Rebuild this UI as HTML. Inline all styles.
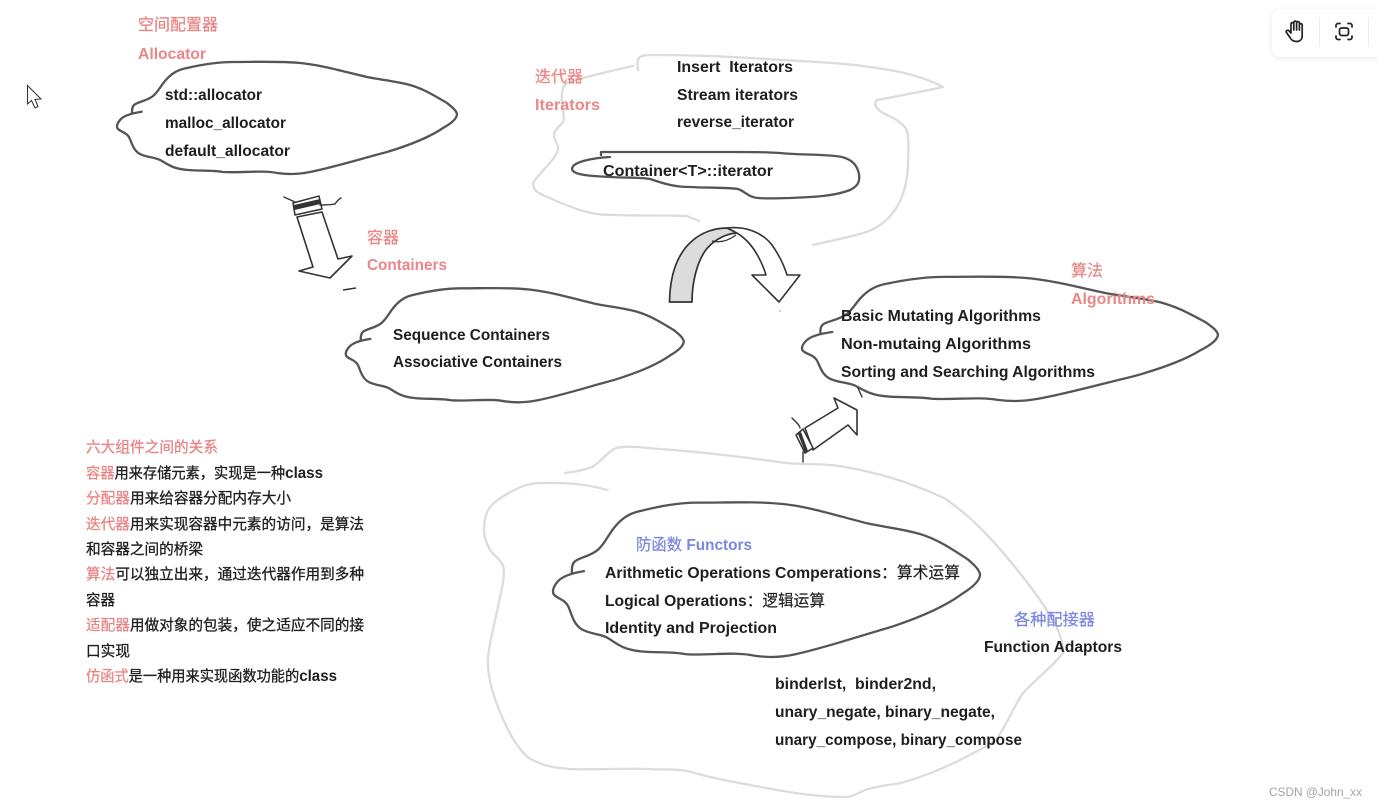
<!DOCTYPE html>
<html><head><meta charset="utf-8"><style>
html,body{margin:0;padding:0;background:#fff;width:1377px;height:807px;overflow:hidden}
svg{display:block}
text{font-family:"Liberation Sans","Noto Sans CJK SC",sans-serif;font-weight:700;font-size:16px;fill:#1e1e1e}
.c{fill:#e98686}
.b{fill:#7c87e2}
.z{font-family:"Noto Sans CJK SC",sans-serif;font-weight:400;font-size:16px;stroke-width:.25px}
.z.c{stroke:#e98686}
.z.b{stroke:#7c87e2}
.z.d{stroke:#1e1e1e;stroke-width:.15px}
.l{font-family:"Noto Sans CJK SC",sans-serif;font-size:14.6px;font-weight:400;stroke:#1e1e1e;stroke-width:.3px}
.l .c,.l.c{stroke:#e98686}
.e{font-family:"Liberation Sans",sans-serif;font-weight:700;font-size:15.5px;stroke:none}
.blob{fill:none;stroke:#555;stroke-width:2.3;stroke-linecap:round;stroke-linejoin:round;vector-effect:non-scaling-stroke}
.g{fill:none;stroke:#dcdcdc;stroke-width:2.3;stroke-linecap:round;stroke-linejoin:round}
.s{fill:#fff;stroke:#333;stroke-width:1.6;stroke-linejoin:round;stroke-linecap:round}
.n{fill:none;stroke:#333;stroke-width:1.4;stroke-linecap:round;stroke-linejoin:round}
</style></head><body>
<svg width="1377" height="807" viewBox="0 0 1377 807" xmlns="http://www.w3.org/2000/svg">
<defs>
<filter id="sh" x="-20%" y="-40%" width="140%" height="180%"><feDropShadow dx="0" dy="1" stdDeviation="3" flood-color="#000" flood-opacity=".09"/></filter>
<path id="bl" class="blob" d="M141.7,111.7 C133,113 125,115 121,119 C117,123 116,127 118,129 C121,132 126,132 129,137 C132,143 133,150 140,154 C148,158 156,157 162,161 C170,166 175,169 188,170 C200,171 212,170 223,172 C240,173 262,170 277,173 C285,174 295,175 310,172 C335,167 360,159 387,152 C410,145 430,137 443,128 C452,123 457,118 457,114 C456,110 452,107 447,103 C435,96 424,89 410,85 C395,81 382,80 367,77 C345,72 322,65 300,63 C280,61 255,62 233,62 C215,62 200,65 187,68 C176,70 170,75 165,81 C160,87 158,92 153,96 C147,101 137,102 134,105 C132,107 132,110 132,113"/>
</defs>

<!-- cursor -->
<path d="M27.5,85.5 L27.5,104 L31.5,100.5 L35,108 L38,106.5 L35,99.5 L41,99 Z" fill="#fff" stroke="#333" stroke-width="1"/>

<!-- toolbar -->
<rect x="1272" y="9" width="120" height="48" rx="9" fill="#fff" filter="url(#sh)"/>
<line x1="1319.5" y1="18" x2="1319.5" y2="46" stroke="#ececec"/>
<line x1="1368.5" y1="18" x2="1368.5" y2="46" stroke="#ececec"/>
<path d="M1291,33 V24 a1.4,1.4 0 0 1 2.8,0 V30 M1293.8,30 V22.5 a1.4,1.4 0 0 1 2.8,0 V30 M1296.6,30 V23 a1.4,1.4 0 0 1 2.8,0 V30 M1299.4,30 V25 a1.4,1.4 0 0 1 2.8,0 V36 C1302.2,39.5 1300,41.5 1296.5,41.5 C1293,41.5 1291.5,40 1290,37.5 L1286.5,32.5 C1285.5,31 1287.5,29.5 1289,30.8 L1291,33" fill="none" stroke="#222" stroke-width="1.7" stroke-linecap="round" stroke-linejoin="round"/>
<path d="M1336,27 V25.5 a2,2 0 0 1 2,-2 H1340 M1348,23.5 H1350 a2,2 0 0 1 2,2 V27 M1352,36 V37.5 a2,2 0 0 1 -2,2 H1348 M1340,39.5 H1338 a2,2 0 0 1 -2,-2 V36" fill="none" stroke="#222" stroke-width="1.7" stroke-linecap="round"/>
<rect x="1339.5" y="28" width="9" height="7.5" rx="2" fill="none" stroke="#222" stroke-width="1.7"/>

<!-- grey sketch outlines -->
<path class="g" d="M633,66 C615,70 598,74 583,78 C573,81 565,82 563,88 C561,95 562,100 562,107 C563,113 565,118 563,122 C559,127 554,130 554,135 C554,141 559,144 558,150 C555,160 540,172 533,183 C533,190 538,193 543,195 C558,202 572,208 587,212 C598,215 607,215 617,215 C640,216 665,215 687,216 L699,221"/>
<path class="g" d="M638,70 C637,64 637,59 640,57 C643,55 647,55 655,55 C680,55 710,56 733,57 C770,59 800,61 833,63 C860,65 880,68 900,72 C918,76 932,81 943,87 C920,92 898,96 877,100 C874,103 875,106 878,109 C883,115 892,116 898,121 C905,126 908,130 908,137 C909,147 908,157 908,167 C907,182 904,195 897,207 C888,221 877,229 863,233 C846,238 830,241 813,245"/>
<path class="g" d="M607.5,490 C590,485 575,483 557,483 C543,483 532,482 521,487 C507,493 497,499 490,507 C485,514 484,522 484,530 C484,538 487,544 490,550 C494,556 502,560 503.6,568 C505,580 500,595 498,607 C494,625 490,640 488,657 C487,675 492,692 498,707 C504,722 511,738 521,750 C526,756 529,759 537,762 C547,767 558,768 570,769 C595,770 622,768 648,769 C662,770 680,768 695,773 C718,780 742,783 766,788 C792,793 818,797 845,797 C853,797 858,793 865,790 C877,786 889,785 901,783 C922,777 942,769 960,760 C973,753 985,748 996,740 C1006,726 1013,708 1023,693 C1035,680 1051,668 1063,653 C1063,640 1058,628 1051,617 C1041,600 1028,583 1015,567 C993,540 970,515 944,498 C914,484 880,473 845,467 C825,463 806,465 786,463 C744,457 702,452 660,449 C645,448 630,445 616,448 C607,452 602,461 592,467 C584,470 574,472 565,473"/>

<!-- blobs -->
<use href="#bl"/>
<use href="#bl" transform="translate(229.5,225.2) scale(.994,1.018)"/>
<use href="#bl" transform="translate(658.85,208.2) scale(1.2235,1.108)"/>
<use href="#bl" transform="translate(406.05,417.2) scale(1.256,1.378)"/>
<path class="blob" d="M610,157 C592,158 572,162 572,169 C573,175 590,176 610,177 C625,178 640,177 650,179 C665,184 675,187 690,187 C705,188 722,187 738,189 C746,192 748,197 758,198 C770,199 780,198 790,198 C815,197 835,196 850,190 C858,186 860,182 859,174 C857,164 850,157 835,156 C815,154 800,155 780,153 C765,152 755,152 740,152 L601,152 L601,155"/>

<!-- down arrow -->
<path class="s" d="M297,217 L313,267 L299,271 L330,278 L352,256 L338,259 L322,212 Z"/>
<path d="M293,203 L319,196 L322,209 L295,215 Z" fill="#fff" stroke="#333" stroke-width="1.5"/>
<path d="M294,205 L320,199 L320.5,204 L294.5,210 Z" fill="#333"/>
<path class="n" d="M284,197 L295,202 M320,205 C326,205 330,205 335,204 C337,201 339,199 341,198"/>
<path d="M343,290 L356,288" stroke="#333" stroke-width="1.6" fill="none"/>

<!-- curved arrow -->
<path d="M669.5,302 C670,275 677,254 692,241 C702,232 715,228 727,228 L737,233 C722,234 711,243 705,251 C697,263 692,282 692,302 Z" fill="#dcdcdc" stroke="#333" stroke-width="1.7" stroke-linejoin="round"/>
<path d="M727,228 C745,226 762,232 772,245 C779,255 784,265 787,275 L800,275 L779,302 L752,275 L766,275 C762,262 755,249 747,241 C743,237 739,234 735,232 C732,230 729,229 727,228 Z" fill="#fff" stroke="#333" stroke-width="1.6" stroke-linejoin="round"/>
<path d="M712,241 C720,243 728,241 736,235" fill="none" stroke="#333" stroke-width="1.3"/>
<circle cx="780" cy="311" r=".6" fill="#555"/>

<!-- up-right arrow -->
<path class="s" d="M805,428 L838,408 L834,398 L857,410 L857,435 L848,425 L813,450 Z"/>
<path d="M796,435 L803,429 L813,448 L805,453 Z" fill="#fff" stroke="#333" stroke-width="1.5"/>
<path d="M798,434 L801,432 L808,451 L805,452 Z" fill="#333"/>
<path class="n" d="M792,418 L796,422 C798,424 800,426 800,428 M803,452 L803,462 M858,388 L862,397"/>

<!-- allocator -->
<text class="z c" x="138" y="30" textLength="80" lengthAdjust="spacingAndGlyphs">空间配置器</text>
<text class="c" x="138" y="59" textLength="68" lengthAdjust="spacingAndGlyphs">Allocator</text>
<text x="165" y="100" textLength="97" lengthAdjust="spacingAndGlyphs">std::allocator</text>
<text x="165" y="128" textLength="121" lengthAdjust="spacingAndGlyphs">malloc_allocator</text>
<text x="165" y="156" textLength="125" lengthAdjust="spacingAndGlyphs">default_allocator</text>

<!-- iterators -->
<text class="z c" x="535" y="82" textLength="48" lengthAdjust="spacingAndGlyphs">迭代器</text>
<text class="c" x="535" y="110" textLength="65" lengthAdjust="spacingAndGlyphs">Iterators</text>
<text x="677" y="72" textLength="116" lengthAdjust="spacingAndGlyphs" xml:space="preserve">Insert  Iterators</text>
<text x="677" y="100" textLength="121" lengthAdjust="spacingAndGlyphs">Stream iterators</text>
<text x="677" y="127" textLength="117" lengthAdjust="spacingAndGlyphs">reverse_iterator</text>
<text x="603" y="176" textLength="170" lengthAdjust="spacingAndGlyphs">Container&lt;T&gt;::iterator</text>

<!-- containers -->
<text class="z c" x="367" y="243" textLength="32" lengthAdjust="spacingAndGlyphs">容器</text>
<text class="c" x="367" y="270" textLength="80" lengthAdjust="spacingAndGlyphs">Containers</text>
<text x="393" y="340" textLength="157" lengthAdjust="spacingAndGlyphs">Sequence Containers</text>
<text x="393" y="367" textLength="169" lengthAdjust="spacingAndGlyphs">Associative Containers</text>

<!-- algorithms -->
<text class="z c" x="1071" y="276" textLength="32" lengthAdjust="spacingAndGlyphs">算法</text>
<text class="c" x="1071" y="304" textLength="84" lengthAdjust="spacingAndGlyphs">Algorithms</text>
<text x="841" y="321" textLength="200" lengthAdjust="spacingAndGlyphs">Basic Mutating Algorithms</text>
<text x="841" y="349" textLength="190" lengthAdjust="spacingAndGlyphs">Non-mutaing Algorithms</text>
<text x="841" y="377" textLength="254" lengthAdjust="spacingAndGlyphs">Sorting and Searching Algorithms</text>

<!-- functors -->
<text class="b" x="636" y="550" textLength="116" lengthAdjust="spacingAndGlyphs"><tspan class="z b">防函数</tspan> Functors</text>
<text x="605" y="578" textLength="355" lengthAdjust="spacingAndGlyphs">Arithmetic Operations Comperations<tspan class="z d">：算术运算</tspan></text>
<text x="605" y="606" textLength="220" lengthAdjust="spacingAndGlyphs">Logical Operations<tspan class="z d">：逻辑运算</tspan></text>
<text x="605" y="633" textLength="172" lengthAdjust="spacingAndGlyphs">Identity and Projection</text>
<text class="z b" x="1014" y="625" textLength="81" lengthAdjust="spacingAndGlyphs">各种配接器</text>
<text x="984" y="652" textLength="138" lengthAdjust="spacingAndGlyphs">Function Adaptors</text>
<text x="775" y="689" textLength="161" lengthAdjust="spacingAndGlyphs" xml:space="preserve">binderlst,  binder2nd,</text>
<text x="775" y="717" textLength="220" lengthAdjust="spacingAndGlyphs">unary_negate, binary_negate,</text>
<text x="775" y="745" textLength="247" lengthAdjust="spacingAndGlyphs">unary_compose, binary_compose</text>

<!-- relationship notes -->
<text class="l c" x="86" y="452" textLength="132" lengthAdjust="spacingAndGlyphs">六大组件之间的关系</text>
<text class="l" x="86" y="478" textLength="237" lengthAdjust="spacingAndGlyphs"><tspan class="c">容器</tspan>用来存储元素，实现是一种<tspan class="e">class</tspan></text>
<text class="l" x="86" y="503" textLength="205" lengthAdjust="spacingAndGlyphs"><tspan class="c">分配器</tspan>用来给容器分配内存大小</text>
<text class="l" x="86" y="529" textLength="278" lengthAdjust="spacingAndGlyphs"><tspan class="c">迭代器</tspan>用来实现容器中元素的访问，是算法</text>
<text class="l" x="86" y="554" textLength="117" lengthAdjust="spacingAndGlyphs">和容器之间的桥梁</text>
<text class="l" x="86" y="579" textLength="278" lengthAdjust="spacingAndGlyphs"><tspan class="c">算法</tspan>可以独立出来，通过迭代器作用到多种</text>
<text class="l" x="86" y="605" textLength="29" lengthAdjust="spacingAndGlyphs">容器</text>
<text class="l" x="86" y="630" textLength="278" lengthAdjust="spacingAndGlyphs"><tspan class="c">适配器</tspan>用做对象的包装，使之适应不同的接</text>
<text class="l" x="86" y="656" textLength="44" lengthAdjust="spacingAndGlyphs">口实现</text>
<text class="l" x="86" y="681" textLength="251" lengthAdjust="spacingAndGlyphs"><tspan class="c">仿函式</tspan>是一种用来实现函数功能的<tspan class="e">class</tspan></text>

<text x="1269" y="796" textLength="93" lengthAdjust="spacingAndGlyphs" style="font-size:12px;font-weight:400;fill:#a3a3a3">CSDN @John_xx</text>
</svg>
</body></html>
